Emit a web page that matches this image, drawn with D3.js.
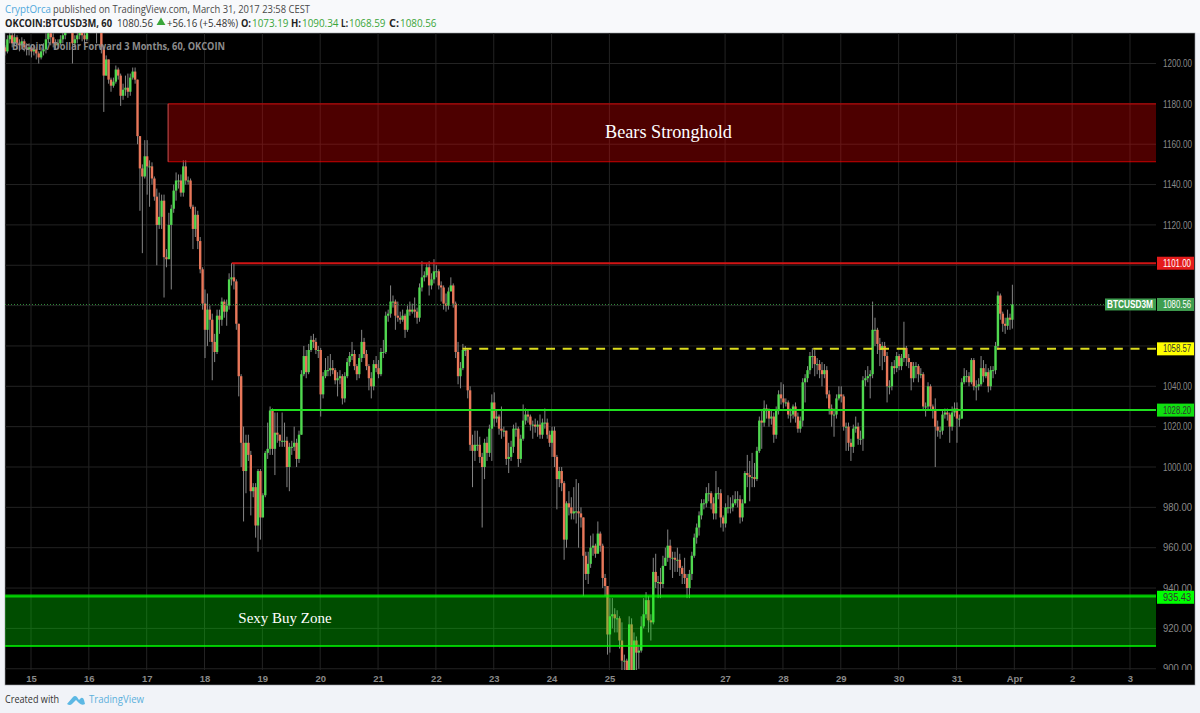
<!DOCTYPE html>
<html>
<head>
<meta charset="utf-8">
<script src="https://cdn.jsdelivr.net/npm/d3@7"></script>
<style>
  html, body { margin: 0; padding: 0; background: #f1f3f8; }
  svg { display: block; }
  .tick text { font-family: "Liberation Sans", Arial, sans-serif; }
</style>
</head>
<body>
<div id="main"></div>
<script>
// hourly closes, the open of a bar is the close before it
const closes = [
  1206,1212,1214,1210,1213,1210,1209,1211,1208,1207,1208,1206,1207,1205,1203,1206,1207,1212,1215,1213,
  1210,1209,1210,1212,1214,1218,1222,1220,1210,1212,1214,1216,1214,1212,1220,1226,1228,1227,1225,1226,
  1208,1194,1202,1192,1189,1191,1197,1194,1184,1187,1188,1186,1193,1196,1192,1164,1148,1144,1154,1149,
  1149,1143,1134,1120,1124,1132,1104,1103,1120,1128,1137,1142,1142,1136,1149,1142,1142,1129,1118,1125,
  1112,1098,1081,1068,1078,1073,1062,1057,1075,1073,1082,1077,1080,1093,1094,1092,1071,1045,1012,998,
  1012,1006,988,990,971,998,975,986,1007,1009,1028,1009,1017,1016,1013,1013,1013,1000,1010,1010,
  1012,1004,1016,1046,1055,1047,1058,1063,1062,1058,1058,1036,1045,1048,1048,1049,1048,1043,1044,1045,
  1034,1045,1052,1055,1056,1050,1046,1054,1062,1056,1050,1044,1040,1051,1049,1046,1057,1057,1075,1076,
  1082,1082,1075,1074,1073,1075,1068,1078,1077,1078,1077,1074,1089,1094,1095,1099,1090,1093,1097,1097,
  1090,1089,1081,1080,1087,1090,1081,1057,1045,1049,1058,1058,1038,1011,1008,1011,1011,1005,1000,1012,
  1007,1019,1032,1024,1025,1019,1018,1018,1004,1005,1010,1019,1019,1004,1014,1023,1026,1025,1021,1021,
  1020,1021,1016,1022,1022,1016,1012,1018,1005,994,998,992,964,982,980,977,978,978,977,975,
  956,947,952,960,961,957,967,961,945,941,917,926,927,925,925,914,904,904,899,922,
  899,914,908,909,921,927,934,924,923,948,943,943,942,951,955,961,955,955,954,954,
  950,947,945,940,947,956,965,970,976,982,982,987,987,982,977,987,987,975,972,980,
  980,980,982,984,984,975,982,997,996,995,995,994,1008,1023,1022,1029,1028,1024,1025,1016,
  1028,1036,1034,1032,1032,1026,1026,1030,1025,1019,1023,1042,1044,1048,1055,1055,1051,1051,1048,1046,
  1048,1036,1029,1026,1026,1034,1036,1035,1020,1020,1012,1010,1019,1020,1014,1014,1043,1044,1045,1046,
  1068,1068,1061,1058,1060,1055,1040,1040,1050,1049,1055,1050,1054,1059,1054,1052,1044,1050,1050,1046,
  1046,1030,1030,1040,1030,1028,1020,1018,1018,1026,1027,1026,1020,1027,1029,1024,1024,1042,1045,1045,
  1042,1053,1040,1040,1041,1049,1045,1047,1040,1048,1048,1060,1085,1076,1071,1070,1074,1073,1080.56
];
const highs = [
  1209,1214,1217,1216,1215,1214,1212,1213,1212,1210,1210,1209,1209,1208,1206,1208,1210,1215,1219,1216,
  1215,1212,1212,1214,1217,1220,1224,1224,1221,1214,1216,1218,1217,1216,1222,1228,1230,1229,1228,1228,
  1226,1209,1204,1202,1193,1193,1199,1198,1195,1190,1194,1195,1195,1198,1198,1192,1164,1150,1162,1162,
  1152,1151,1144,1138,1136,1135,1135,1108,1126,1130,1140,1146,1145,1145,1152,1152,1144,1143,1130,1129,
  1127,1114,1099,1088,1086,1080,1076,1066,1078,1078,1084,1083,1083,1096,1101,1101,1093,1071,1046,1020,
  1016,1016,1008,992,992,999,999,987,1008,1022,1030,1029,1027,1027,1016,1027,1022,1015,1012,1013,
  1020,1014,1018,1048,1060,1058,1061,1065,1066,1064,1060,1059,1047,1054,1055,1056,1053,1049,1047,1048,
  1046,1047,1054,1057,1062,1058,1051,1056,1068,1064,1058,1051,1047,1053,1055,1053,1059,1063,1077,1078,
  1090,1085,1083,1082,1077,1078,1076,1080,1082,1081,1084,1079,1091,1102,1097,1101,1102,1096,1103,1100,
  1098,1092,1090,1086,1089,1094,1091,1082,1062,1052,1061,1060,1059,1040,1016,1018,1018,1015,1007,1014,
  1015,1021,1036,1037,1028,1026,1030,1020,1018,1012,1013,1021,1022,1020,1016,1031,1029,1028,1026,1023,
  1024,1023,1026,1024,1029,1024,1018,1020,1020,1006,1000,1000,993,983,988,985,990,994,992,980,
  975,958,958,966,967,962,973,968,962,947,941,935,935,930,929,926,923,907,905,926,
  925,918,916,912,926,935,938,936,927,955,957,946,950,956,960,969,964,958,958,960,
  957,951,955,947,949,958,967,972,978,984,984,990,992,988,985,998,990,989,976,982,
  986,985,986,988,988,986,984,998,1006,1003,1007,1002,1010,1025,1028,1033,1031,1029,1028,1027,
  1030,1038,1042,1041,1034,1033,1029,1031,1032,1027,1025,1044,1046,1050,1057,1059,1058,1054,1053,1052,
  1051,1050,1038,1031,1029,1036,1040,1040,1036,1022,1022,1014,1021,1025,1022,1018,1045,1048,1050,1048,
  1082,1074,1069,1064,1062,1062,1057,1043,1052,1053,1057,1056,1056,1072,1060,1056,1052,1052,1052,1051,
  1049,1047,1032,1042,1041,1031,1034,1023,1020,1028,1029,1029,1027,1030,1032,1032,1026,1044,1049,1048,
  1047,1054,1054,1043,1044,1055,1053,1051,1049,1050,1050,1062,1087,1086,1077,1074,1078,1076,1090.34
];
const lows = [
  1204,1205,1210,1208,1209,1207,1206,1207,1206,1204,1204,1203,1204,1202,1200,1202,1204,1205,1210,1209,
  1208,1207,1207,1209,1210,1212,1216,1218,1200,1208,1210,1212,1211,1209,1211,1218,1225,1224,1210,1218,
  1205,1176,1194,1190,1186,1188,1190,1192,1179,1182,1184,1183,1184,1192,1190,1160,1127,1106,1143,1135,
  1129,1140,1132,1100,1118,1118,1084,1099,1103,1088,1126,1132,1138,1134,1134,1140,1140,1128,1108,1114,
  1108,1096,1078,1054,1060,1062,1043,1052,1056,1066,1070,1074,1070,1078,1090,1088,1068,1035,1000,973,
  987,1003,976,985,965,958,964,975,985,1004,1006,1006,996,1012,1010,1010,1010,990,988,1006,
  1008,1000,1002,1016,1045,1044,1046,1057,1059,1056,1054,1025,1034,1044,1045,1045,1046,1041,1035,1041,
  1031,1032,1044,1050,1053,1048,1043,1044,1052,1054,1048,1038,1034,1038,1047,1044,1045,1054,1056,1072,
  1074,1079,1068,1072,1071,1072,1064,1067,1075,1076,1074,1071,1072,1087,1092,1094,1085,1088,1091,1094,
  1088,1082,1078,1077,1078,1088,1079,1054,1041,1039,1048,1055,1034,1008,990,1003,1008,1002,970,994,
  1003,1005,1003,1020,1022,1016,1014,1015,1001,997,1003,1007,1015,1000,1002,1013,1021,1022,1018,1014,
  1017,1015,1014,1014,1019,1014,1010,1005,1000,979,990,988,954,960,976,974,974,972,960,970,
  936,944,942,950,956,955,960,958,940,936,907,908,920,918,918,910,898,899,895,897,
  895,897,899,900,908,920,925,918,914,922,940,935,935,940,951,953,949,945,948,948,
  946,942,942,935,935,944,955,962,966,974,979,980,983,979,974,974,984,970,968,970,
  977,977,978,981,980,972,973,982,990,983,990,990,993,1007,1009,1020,1024,1020,1021,1012,
  1014,1026,1031,1029,1030,1024,1022,1024,1022,1017,1017,1020,1032,1042,1046,1049,1045,1046,1044,1040,
  1044,1034,1026,1020,1015,1024,1033,1032,1018,1008,1008,1003,1007,1017,1011,1011,1008,1040,1042,1034,
  1044,1060,1056,1050,1048,1052,1032,1036,1038,1046,1047,1048,1048,1052,1050,1049,1038,1042,1044,1042,
  1044,1028,1025,1028,1028,1024,1000,1015,1014,1016,1024,1023,1012,1018,1025,1012,1020,1024,1041,1042,
  1040,1041,1038,1033,1038,1040,1042,1044,1037,1038,1044,1046,1058,1073,1067,1066,1068,1068,1068.59
];
// first bar sits at this fractional day of March, bars are one hour apart
const firstDay = 14.55;
const priceTicks = [1200, 1180, 1160, 1140, 1120, 1100, 1080, 1060, 1040, 1020, 1000, 980, 960, 940, 920, 900];
// 1100, 1080 and 1060 have gridlines but their labels are hidden behind the price tags
const priceLabels = [1200, 1180, 1160, 1140, 1120, 1040, 1020, 1000, 980, 960, 940, 920, 900];
// days counted from March, so April 1 is 32. The 26th has no label on the original
const dayTicks = [15, 16, 17, 18, 19, 20, 21, 22, 23, 24, 25, 27, 28, 29, 30, 31, 32, 33, 34];
const dayLabels = ['15', '16', '17', '18', '19', '20', '21', '22', '23', '24', '25', '27', '28', '29', '30', '31', 'Apr', '2', '3'];
const bearsZone = [1180, 1151.3];
const buyZone = [936, 911.3];
const buyTag = 935.43;
const resistance = 1101.0;
const midLevel = 1058.57;
const supportLevel = 1028.2;
const lastPrice = 1080.56;
// day where each drawn level starts
const bearsStart = 17.37;
const resistanceStart = 18.47;
const midStart = 22.46;
const supportStart = 19.14;

// assigns constants for svg
const width = 1200;
const height = 713;
const left = 5;
const top_ = 33;
const plotRight = 1156;
const frameRight = 1195;
const plotBottom = 670;
const frameBottom = 685;

const xScale = d3.scaleLinear().domain([15, 34]).range([31, 1130]);
const yScale = d3.scaleLinear().domain([1000, 1200]).range([467, 63.5]);

const svg = d3.select('#main').append('svg')
  .attr('width', width)
  .attr('height', height);

// page colours
svg.append('rect').attr('width', width).attr('height', height).attr('fill', '#f1f3f8');
svg.append('rect').attr('width', width).attr('height', top_).attr('fill', '#f8f9fb');
svg.append('rect')
  .attr('x', left).attr('y', top_)
  .attr('width', frameRight - left).attr('height', frameBottom - top_)
  .attr('fill', '#000')
  .attr('stroke', '#9a9ea3').attr('stroke-width', 0.6);

svg.append('defs').append('clipPath').attr('id', 'plot')
  .append('rect')
  .attr('x', left).attr('y', top_)
  .attr('width', plotRight - left).attr('height', plotBottom - top_);
svg.select('defs').append('clipPath').attr('id', 'priceAxis')
  .append('rect')
  .attr('x', plotRight).attr('y', top_)
  .attr('width', frameRight - plotRight).attr('height', plotBottom - top_);

// grid
const grid = svg.append('g').attr('clip-path', 'url(#plot)');
grid.selectAll('.v').data(dayTicks).enter().append('line')
  .attr('x1', d => xScale(d)).attr('x2', d => xScale(d))
  .attr('y1', top_).attr('y2', plotBottom)
  .attr('stroke', '#232323');
grid.selectAll('.h').data(priceTicks).enter().append('line')
  .attr('x1', left).attr('x2', plotRight)
  .attr('y1', d => yScale(d)).attr('y2', d => yScale(d))
  .attr('stroke', '#232323');

// price axis, clipped so the 900 label is cut by the time strip
const yAxis = d3.axisRight(yScale)
  .tickValues(priceLabels)
  .tickSize(0)
  .tickPadding(7)
  .tickFormat(d3.format('.2f'));
const yG = svg.append('g')
  .attr('clip-path', 'url(#priceAxis)')
  .append('g')
  .attr('transform', `translate(${plotRight}, 0)`)
  .call(yAxis);
yG.select('.domain').remove();
yG.selectAll('text')
  .attr('fill', '#8a8a8a')
  .attr('textLength', 29)
  .attr('lengthAdjust', 'spacingAndGlyphs')
  .style('font-size', '10px');

// time axis
const xAxis = d3.axisBottom(xScale)
  .tickValues(dayTicks)
  .tickSize(0)
  .tickPadding(5)
  .tickFormat((d, i) => dayLabels[i]);
const xG = svg.append('g')
  .attr('transform', `translate(0, ${plotBottom})`)
  .call(xAxis);
xG.select('.domain').remove();
xG.selectAll('text').attr('fill', '#8a8a8a').style('font-size', '9.5px').style('font-weight', 'bold');

// candles
const bars = closes.map((c, i) => ({
  day: firstDay + i / 24,
  open: i === 0 ? 1208 : closes[i - 1],
  close: c,
  high: highs[i],
  low: lows[i]
}));
const candles = svg.append('g').attr('clip-path', 'url(#plot)');
candles.selectAll('.wick').data(bars).enter().append('line')
  .attr('x1', d => xScale(d.day)).attr('x2', d => xScale(d.day))
  .attr('y1', d => yScale(d.high)).attr('y2', d => yScale(d.low))
  .attr('stroke', '#858585');
candles.selectAll('.body').data(bars).enter().append('rect')
  .attr('x', d => xScale(d.day) - 1.2)
  .attr('width', 2.4)
  .attr('y', d => yScale(Math.max(d.open, d.close)))
  .attr('height', d => Math.max(1, Math.abs(yScale(d.open) - yScale(d.close))))
  .attr('fill', d => (d.close >= d.open ? '#50d850' : '#e8775a'));

// zones lie over the candles and tint them
const zone = (prices, start, colour, topWidth, bottomWidth) => {
  const g = svg.append('g').attr('clip-path', 'url(#plot)');
  const x0 = xScale(start);
  g.append('rect')
    .attr('x', x0).attr('y', yScale(prices[0]))
    .attr('width', plotRight - x0).attr('height', yScale(prices[1]) - yScale(prices[0]))
    .attr('fill', colour).attr('fill-opacity', 0.3);
  g.append('line')
    .attr('x1', x0).attr('x2', plotRight)
    .attr('y1', yScale(prices[0])).attr('y2', yScale(prices[0]))
    .attr('stroke', colour).attr('stroke-opacity', 0.75).attr('stroke-width', topWidth);
  g.append('line')
    .attr('x1', x0).attr('x2', plotRight)
    .attr('y1', yScale(prices[1])).attr('y2', yScale(prices[1]))
    .attr('stroke', colour).attr('stroke-opacity', 0.75).attr('stroke-width', bottomWidth);
  return g;
};
zone(bearsZone, bearsStart, '#f00', 1, 1)
  .append('line')
  .attr('x1', xScale(bearsStart)).attr('x2', xScale(bearsStart))
  .attr('y1', yScale(bearsZone[0])).attr('y2', yScale(bearsZone[1]))
  .attr('stroke', '#d05050');
zone(buyZone, firstDay, '#0f0', 3, 2);

// last price dotted line
svg.append('line')
  .attr('x1', left).attr('x2', 1105)
  .attr('y1', yScale(lastPrice)).attr('y2', yScale(lastPrice))
  .attr('stroke', '#2f8a3a')
  .attr('stroke-dasharray', '1,2');

// drawn levels
svg.append('line')
  .attr('x1', xScale(resistanceStart)).attr('x2', plotRight)
  .attr('y1', yScale(resistance)).attr('y2', yScale(resistance))
  .attr('stroke', '#d01414').attr('stroke-width', 2);
svg.append('line')
  .attr('x1', xScale(midStart)).attr('x2', plotRight)
  .attr('y1', yScale(midLevel)).attr('y2', yScale(midLevel))
  .attr('stroke', '#dcdc1e').attr('stroke-width', 2)
  .attr('stroke-dasharray', '9,7.7');
svg.append('line')
  .attr('x1', xScale(supportStart)).attr('x2', plotRight)
  .attr('y1', yScale(supportLevel)).attr('y2', yScale(supportLevel))
  .attr('stroke', '#1fe01f').attr('stroke-width', 2);

// text squeezed to the width it has on the original, which is a shrunken screenshot
const squeezed = (x, y, str, len, font, fill, anchor) => svg.append('text')
  .attr('x', x).attr('y', y)
  .attr('text-anchor', anchor || 'start')
  .attr('textLength', len)
  .attr('lengthAdjust', 'spacingAndGlyphs')
  .style('font', font)
  .attr('fill', fill)
  .text(str);

// price tags on the axis
const tagFont = '10px "Liberation Sans", Arial, sans-serif';
const tag = (price, bg, fg) => {
  const y = yScale(price);
  svg.append('rect')
    .attr('x', 1157).attr('y', y - 6.5)
    .attr('width', 37).attr('height', 13)
    .attr('fill', bg);
  squeezed(1163, y + 3.5, d3.format('.2f')(price), 28, tagFont, fg);
};
tag(resistance, '#e51c1c', '#fff');
tag(midLevel, '#ffff00', '#333');
tag(supportLevel, '#10e010', '#333');
tag(buyTag, '#00ff00', '#333');
tag(lastPrice, '#3f9e50', '#fff');
svg.append('rect')
  .attr('x', 1105).attr('y', yScale(lastPrice) - 6)
  .attr('width', 51).attr('height', 12)
  .attr('fill', '#3f9e50');
squeezed(1107, yScale(lastPrice) + 3.5, 'BTCUSD3M', 46, 'bold ' + tagFont, '#fff');

// zone captions
svg.append('text')
  .attr('x', 668.5).attr('y', 138)
  .attr('text-anchor', 'middle')
  .style('font', '18.2px "Liberation Serif", serif')
  .attr('fill', '#fff')
  .text('Bears Stronghold');
svg.append('text')
  .attr('x', 285).attr('y', 623)
  .attr('text-anchor', 'middle')
  .style('font', '15px "Liberation Serif", serif')
  .attr('fill', '#fff')
  .text('Sexy Buy Zone');

// watermark
squeezed(12, 50, 'Bitcoin / Dollar Forward 3 Months, 60, OKCOIN', 213, 'bold 11px "Open Sans", sans-serif', '#8c8c8c');

// header lines
const regular = '10.5px "Open Sans", sans-serif';
const bold = 'bold 10.5px "Open Sans", sans-serif';
const upGreen = '#3aa63a';
squeezed(5, 12.5, 'CryptOrca', 46, regular, '#4ea8dc');
squeezed(53, 12.5, 'published on TradingView.com, March 31, 2017 23:58 CEST', 257, regular, '#4a4a4a');

const lineTwo = 26.5;
squeezed(5, lineTwo, 'OKCOIN:BTCUSD3M, 60', 107, bold, '#222');
squeezed(117, lineTwo, '1080.56', 36, regular, '#333');
svg.append('path')
  .attr('transform', `translate(161, ${lineTwo - 4})`)
  .attr('d', d3.symbol(d3.symbolTriangle, 34))
  .attr('fill', upGreen);
squeezed(167, lineTwo, '+56.16 (+5.48%)', 71, regular, '#333');
const ohlcNames = ['O:', 'H:', 'L:', 'C:'];
const ohlcValues = ['1073.19', '1090.34', '1068.59', '1080.56'];
const ohlcNameX = [241, 291, 341, 389];
const ohlcValueX = [252, 302, 349, 400];
ohlcNames.forEach((n, i) => {
  squeezed(ohlcNameX[i], lineTwo, n, i === 2 ? 7 : 10, bold, '#222');
  squeezed(ohlcValueX[i], lineTwo, ohlcValues[i], 36.5, regular, upGreen);
});

// footer
squeezed(5, 703, 'Created with', 54, regular, '#333');
svg.append('path')
  .attr('transform', 'translate(67, 693)')
  .attr('d', 'M0 11 L6 4 Q8 2 10 4 L12 7 L14 5 Q16 4 17 7 L18 11 Q15 13 12 10 L9 7 L5 11 Q3 13 0 11 Z')
  .attr('fill', '#5cb8e4');
squeezed(89, 703, 'TradingView', 55, regular, '#5cb0dc');
</script>
</body>
</html>
